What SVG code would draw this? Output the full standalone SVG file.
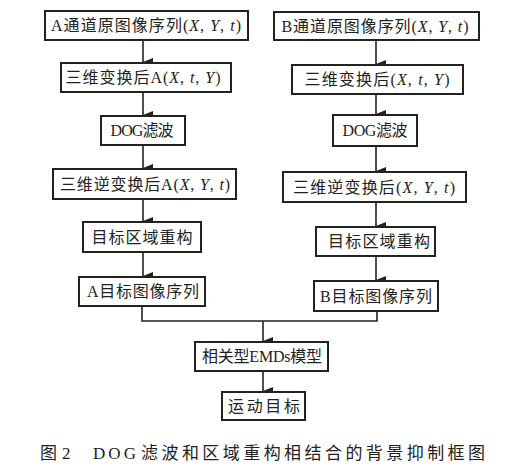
<svg xmlns="http://www.w3.org/2000/svg" width="506" height="472" viewBox="0 0 506 472">
<defs>
<style>
.box{fill:#fff;stroke:#222;stroke-width:2}
.t{font-family:"Liberation Serif","Noto Sans CJK SC",serif;font-size:16px;fill:#222;text-anchor:middle}
.i{font-style:italic}
.c{stroke:#222;stroke-width:1.6;fill:none}
.cap{font-family:"Liberation Serif","Noto Sans CJK SC",serif;font-size:17px;fill:#222}
</style>
<marker id="ah" markerUnits="userSpaceOnUse" markerWidth="8" markerHeight="10" refX="4" refY="10" orient="auto-start-reverse" viewBox="0 0 8 10">
<path d="M0,0 L8,0 L4,10 z" fill="#222"/>
</marker>
</defs>
<rect width="506" height="472" fill="#fff"/>
<g id="connectors">
<line class="c" x1="143" y1="40" x2="143" y2="62" marker-end="url(#ah)"/>
<line class="c" x1="143" y1="92" x2="143" y2="115" marker-end="url(#ah)"/>
<line class="c" x1="143" y1="145" x2="143" y2="168" marker-end="url(#ah)"/>
<line class="c" x1="143" y1="199" x2="143" y2="221" marker-end="url(#ah)"/>
<line class="c" x1="143" y1="252" x2="143" y2="276" marker-end="url(#ah)"/>
<line class="c" x1="376" y1="40" x2="376" y2="64" marker-end="url(#ah)"/>
<line class="c" x1="376" y1="94" x2="376" y2="114" marker-end="url(#ah)"/>
<line class="c" x1="376" y1="146" x2="376" y2="171" marker-end="url(#ah)"/>
<line class="c" x1="376" y1="202" x2="376" y2="226" marker-end="url(#ah)"/>
<line class="c" x1="376" y1="256" x2="376" y2="280" marker-end="url(#ah)"/>
<polyline class="c" points="142,306 142,321 377,321 377,311"/>
<line class="c" x1="263" y1="321" x2="263" y2="341" marker-end="url(#ah)"/>
<line class="c" x1="263" y1="371" x2="263" y2="391" marker-end="url(#ah)"/>
</g>
<g id="a1"><rect class="box" x="45" y="11" width="203" height="29"/><text class="t" x="146" y="31" textLength="190" lengthAdjust="spacing">A通道原图像序列(<tspan class="i">X</tspan>, <tspan class="i">Y</tspan>, <tspan class="i">t</tspan>)</text></g>
<g id="a2"><rect class="box" x="61" y="63" width="170" height="29"/><text class="t" x="143" y="83" textLength="155" lengthAdjust="spacing">三维变换后A(<tspan class="i">X</tspan>, <tspan class="i">t</tspan>, <tspan class="i">Y</tspan>)</text></g>
<g id="a3"><rect class="box" x="101" y="116" width="84" height="29"/><text class="t" x="142" y="136" textLength="63" lengthAdjust="spacing">DOG滤波</text></g>
<g id="a4"><rect class="box" x="53" y="169" width="183" height="30"/><text class="t" x="145" y="190" textLength="170" lengthAdjust="spacing">三维逆变换后A(<tspan class="i">X</tspan>, <tspan class="i">Y</tspan>, <tspan class="i">t</tspan>)</text></g>
<g id="a5"><rect class="box" x="83" y="222" width="118" height="30"/><text class="t" x="142" y="243" textLength="101" lengthAdjust="spacing">目标区域重构</text></g>
<g id="a6"><rect class="box" x="79" y="277" width="126" height="29"/><text class="t" x="143" y="297" textLength="112" lengthAdjust="spacing">A目标图像序列</text></g>
<g id="b1"><rect class="box" x="274" y="12" width="205" height="28"/><text class="t" x="375" y="32" textLength="187" lengthAdjust="spacing">B通道原图像序列(<tspan class="i">X</tspan>, <tspan class="i">Y</tspan>, <tspan class="i">t</tspan>)</text></g>
<g id="b2"><rect class="box" x="292" y="65" width="171" height="29"/><text class="t" x="377" y="85" textLength="145" lengthAdjust="spacing">三维变换后(<tspan class="i">X</tspan>, <tspan class="i">t</tspan>, <tspan class="i">Y</tspan>)</text></g>
<g id="b3"><rect class="box" x="333" y="115" width="84" height="31"/><text class="t" x="375" y="136" textLength="65" lengthAdjust="spacing">DOG滤波</text></g>
<g id="b4"><rect class="box" x="283" y="172" width="183" height="30"/><text class="t" x="374" y="193" textLength="162" lengthAdjust="spacing">三维逆变换后(<tspan class="i">X</tspan>, <tspan class="i">Y</tspan>, <tspan class="i">t</tspan>)</text></g>
<g id="b5"><rect class="box" x="316" y="227" width="119" height="29"/><text class="t" x="379" y="247" textLength="102" lengthAdjust="spacing">目标区域重构</text></g>
<g id="b6"><rect class="box" x="314" y="281" width="124" height="30"/><text class="t" x="376" y="302" textLength="112" lengthAdjust="spacing">B目标图像序列</text></g>
<g id="emd"><rect class="box" x="195" y="342" width="133" height="29"/><text class="t" x="262" y="362" textLength="120" lengthAdjust="spacing">相关型EMDs模型</text></g>
<g id="target"><rect class="box" x="222" y="392" width="83" height="28"/><text class="t" x="264" y="412" textLength="72" lengthAdjust="spacing">运动目标</text></g>
<text class="cap" y="459"><tspan x="40">图</tspan><tspan x="62">2</tspan><tspan x="93" textLength="43" lengthAdjust="spacing">DOG</tspan><tspan x="141" textLength="344" lengthAdjust="spacing">滤波和区域重构相结合的背景抑制框图</tspan></text>
</svg>
